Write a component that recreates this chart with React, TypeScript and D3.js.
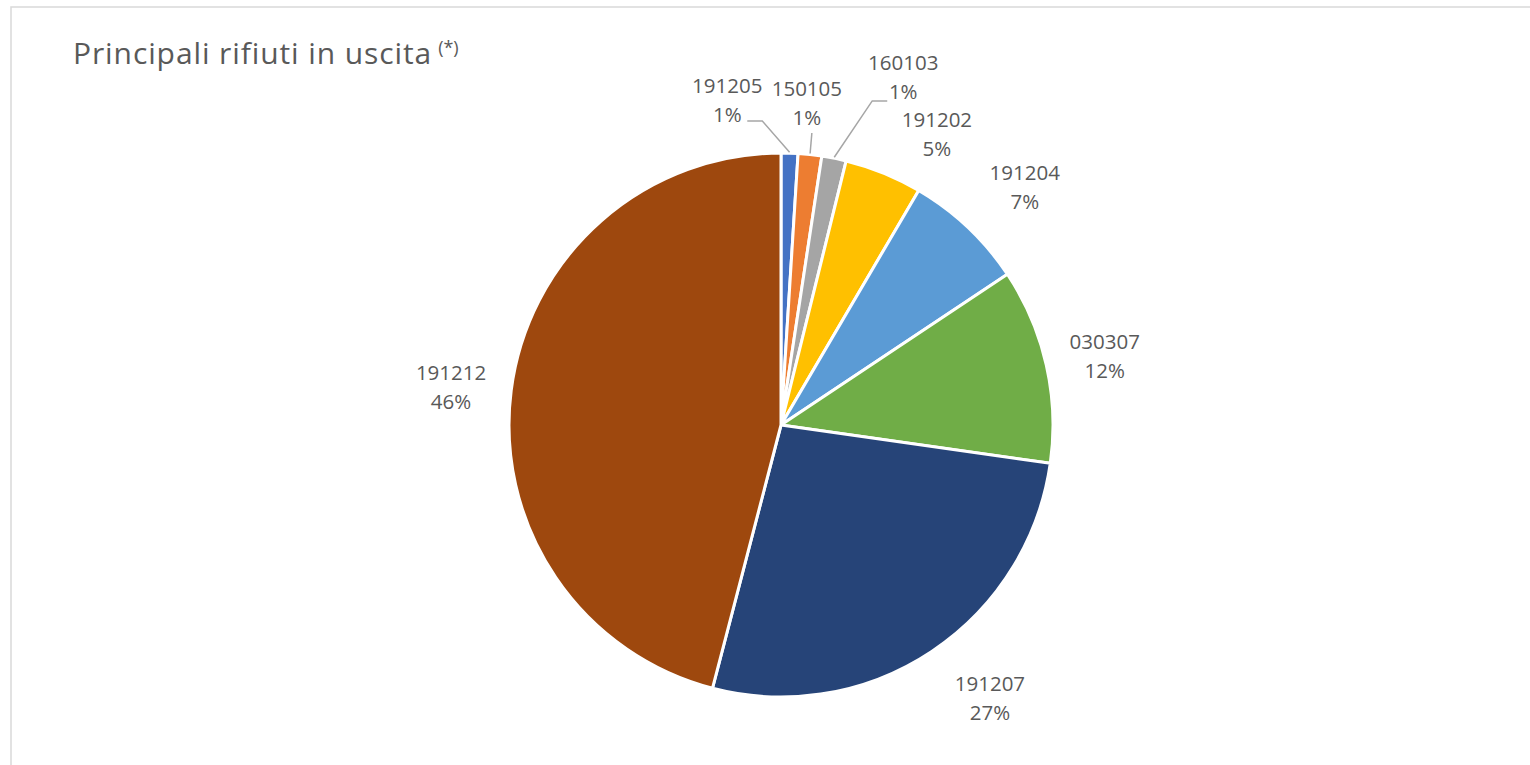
import React from "react";
import * as d3 from "d3";

// ---- data ----
const categories = ["191205", "150105", "160103", "191202", "191204", "030307", "191207", "191212"];
const shares = [1.0, 1.4, 1.45, 4.6, 7.2, 11.6, 26.8, 45.95];
const colors = ["#4472C4", "#ED7D31", "#A5A5A5", "#FFC000", "#5B9BD5", "#70AD47", "#264478", "#9E480E"];
const title = "Principali rifiuti in uscita";
const titleNote = "(*)";

// ---- layout (label placement in polar coords: angle in degrees clockwise from top, radius) ----
const labelAngles = [-9.4, 4.6, 19.4, 28.2, 45.8, 78, 142.6, 276.4];
const labelRadii = [329, 322.5, 368, 330, 340, 331, 344, 332];
// leader lines: points relative to label centre, [near-arc end, tail end]
const leaders: Record<string, [number, number][]> = {
  "191205": [[35, 20.5], [20, 20.5]],
  "150105": [[5, 29.5]],
  "160103": [[-31, 23], [-16, 23]],
};

const W = 1530;
const H = 765;
const CX = 781;
const CY = 425;
const R = 272;
const FONT = "'Open Sans', 'Noto Sans', sans-serif";
const TEXT = "#595959";

export default function App() {
  const pie = d3
    .pie<number>()
    .sort(null)
    .value((d) => d)
    .startAngle(0)
    .endAngle(2 * Math.PI);
  const arcs = pie(shares);
  const total = d3.sum(shares);
  const arcGen = d3.arc<d3.PieArcDatum<number>>().innerRadius(0).outerRadius(R);
  const fmt = d3.format(".0%");

  const polar = (deg: number, r: number): [number, number] => {
    const a = (deg * Math.PI) / 180;
    return [CX + r * Math.sin(a), CY - r * Math.cos(a)];
  };

  return (
    <svg
      width={W}
      height={H}
      style={{ position: "absolute", left: 0, top: 0, display: "block", background: "#fff" }}
    >
      <rect x={11} y={7} width={1600} height={800} fill="#fff" stroke="#d9d9d9" strokeWidth={1.5} />
      <text x={73} y={64} fontFamily={FONT} fontSize={30} fill={TEXT}>
        <tspan letterSpacing={0.9}>{title}</tspan>
        <tspan dx={6} dy={-10} fontSize={18}>
          {titleNote}
        </tspan>
      </text>
      <g transform={`translate(${CX},${CY})`}>
        {arcs.map((a, i) => (
          <path key={categories[i]} d={arcGen(a) || ""} fill={colors[i]} stroke="#fff" strokeWidth={3} strokeLinejoin="round" />
        ))}
      </g>
      {arcs.map((a, i) => {
        const cat = categories[i];
        const [lx, ly] = polar(labelAngles[i], labelRadii[i]);
        const lead = leaders[cat];
        let leaderEl = null;
        if (lead) {
          const mid = (((a.startAngle + a.endAngle) / 2) * 180) / Math.PI;
          const [ax, ay] = polar(mid, R + 1);
          const pts: [number, number][] = [[ax, ay], ...lead.map(([dx, dy]) => [lx + dx, ly + dy] as [number, number])];
          leaderEl = (
            <path
              d={d3.line()(pts) || ""}
              fill="none"
              stroke="#a6a6a6"
              strokeWidth={1.5}
            />
          );
        }
        return (
          <g key={"l" + cat}>
            {leaderEl}
            <text x={lx} y={ly - 7.5} textAnchor="middle" fontFamily={FONT} fontSize={20.5} fill={TEXT}>
              {cat}
            </text>
            <text x={lx} y={ly + 21.5} textAnchor="middle" fontFamily={FONT} fontSize={20.5} fill={TEXT}>
              {fmt(shares[i] / total)}
            </text>
          </g>
        );
      })}
    </svg>
  );
}
